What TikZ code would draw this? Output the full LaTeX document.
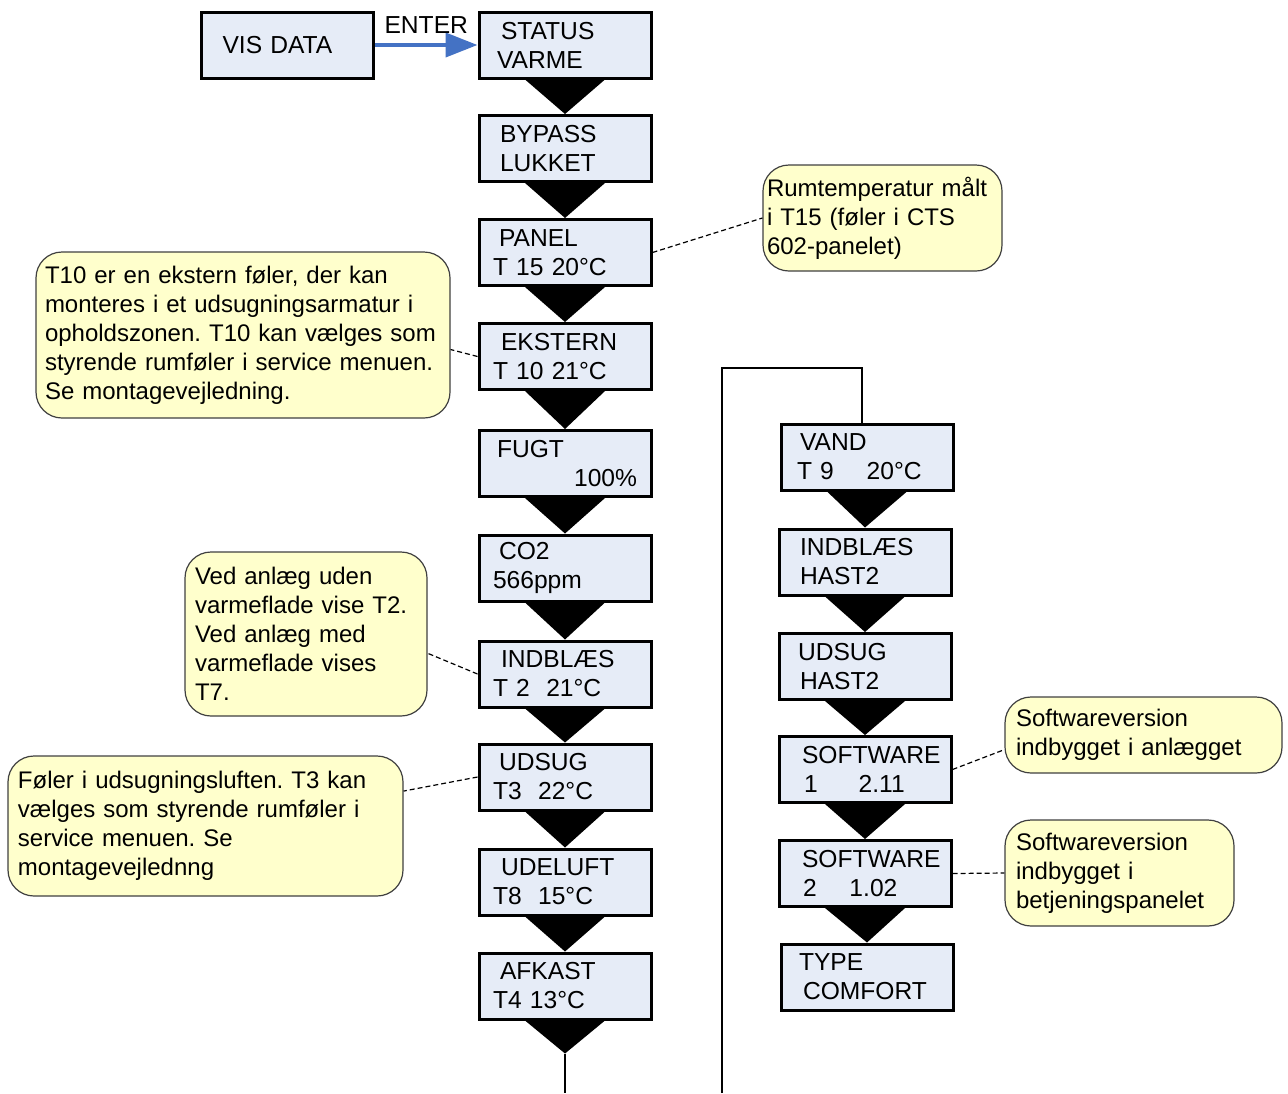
\documentclass[tikz,border=0pt]{standalone}
\usepackage{fontspec}
\setmainfont{Liberation Sans}
\usetikzlibrary{arrows.meta}
\frenchspacing
\definecolor{boxblue}{RGB}{230,236,247}
\definecolor{noteyellow}{RGB}{255,255,204}
\definecolor{enterblue}{RGB}{68,114,196}
\tikzset{
	menubox/.style={draw, line width=1.5pt, fill=boxblue, text width=72pt, inner xsep=7pt, inner ysep=0pt, minimum height=33pt, align=left, font=\fontsize{12.3}{14.5}\selectfont},
	menuboxr/.style={menubox, text width=77pt, inner xsep=4.5pt},
	note/.style={draw=black!75, line width=0.6pt, fill=noteyellow, rounded corners=13pt, inner ysep=0pt, align=left, font=\fontsize{12}{14.5}\selectfont},
	notelink/.style={dash pattern=on 2.5pt off 1.5pt, line width=0.6pt}
}

\begin{document}
\begin{tikzpicture}[x=0.5pt, y=-0.5pt]
			%%%%% START %%%%%
			\useasboundingbox (0, 0) rectangle (1288, 1093);
			
			\node[menubox] (visdata) at (287.5, 45) {\hspace*{3.5pt}VIS DATA};
			
			% venstre kolonne
			\node[menubox] (status) at (565, 45) {\hspace*{4pt}STATUS\\\hspace*{2pt}VARME};
			\node[menubox] (bypass) at (565, 148.5) {\hspace*{3.5pt}BYPASS\\\hspace*{3.5pt}LUKKET};
			\node[menubox] (panel) at (565, 252.5) {\hspace*{3pt}PANEL\\T 15 20°C};
			\node[menubox] (ekstern) at (565, 356.5) {\hspace*{4pt}EKSTERN\\T 10 21°C};
			\node[menubox] (fugt) at (565, 463.5) {\hspace*{2pt}FUGT\\\hspace*{\fill}100\%};
			\node[menubox] (co2) at (565, 568) {\hspace*{3pt}CO2\\566ppm};
			\node[menubox] (indblaes) at (565, 674) {\hspace*{4pt}INDBLÆS\\T 2\ \ 21°C};
			\node[menubox] (udsug) at (565, 777) {\hspace*{3pt}UDSUG\\T3\ \ 22°C};
			\node[menubox] (udeluft) at (565, 882) {\hspace*{4pt}UDELUFT\\T8\ \ 15°C};
			\node[menubox] (afkast) at (565, 986) {\hspace*{3.5pt}AFKAST\\T4 13°C};
			
			% hoejre kolonne
			\node[menuboxr] (vand) at (867, 457) {\hspace*{5pt}VAND\\\hspace*{3.5pt}T 9\ \ \ \ 20°C};
			\node[menuboxr] (indblaesr) at (865, 562) {\hspace*{6pt}INDBLÆS\\\hspace*{6pt}HAST2};
			\node[menuboxr] (udsugr) at (865, 666.5) {\hspace*{5pt}UDSUG\\\hspace*{6pt}HAST2};
			\node[menuboxr] (softwarea) at (865, 769.5) {\hspace*{7pt}SOFTWARE\\\hspace*{8pt}1\ \ \ \ \ 2.11};
			\node[menuboxr] (softwareb) at (865, 873.5) {\hspace*{7pt}SOFTWARE\\\hspace*{7.5pt}2\ \ \ \ 1.02};
			\node[menuboxr] (type) at (867, 977) {\hspace*{4.5pt}TYPE\\\hspace*{6.5pt}COMFORT};
			
			\foreach \a/\b in {status/bypass, bypass/panel, panel/ekstern, ekstern/fugt, fugt/co2, co2/indblaes, indblaes/udsug, udsug/udeluft, udeluft/afkast, vand/indblaesr, indblaesr/udsugr, udsugr/softwarea, softwarea/softwareb, softwareb/type}
				\fill ([xshift=-20pt]\a.south) -- ([xshift=20pt]\a.south) -- (\b.north) -- cycle;
			
			\coordinate (afkasttip) at ([yshift=-16.5pt]afkast.south);
			\fill ([xshift=-20pt]afkast.south) -- ([xshift=20pt]afkast.south) -- (afkasttip) -- cycle;
			\coordinate (leftout) at (565, 1093);
			\draw[line width=0.75pt] (afkasttip) -- (leftout);
			
			\coordinate (rightout) at (722, 1093);
			\coordinate (looptop) at (862, 368);
			\draw[line width=0.75pt] (rightout) |- (looptop) -- (looptop |- vand.north);
			
			\draw[-{Triangle[length=16pt, width=12pt]}, line width=2pt, color=enterblue] (visdata.east) -- node[above=3pt, inner sep=2pt, text=black, font=\fontsize{12.3}{14.5}\selectfont] (enter) {ENTER} (status.west);
			
			% kommentarer
			\node[note, text width=115.5pt, inner xsep=2pt, minimum height=53pt] (rumnote) at (882.5, 218) {Rumtemperatur målt\\i T15 (føler i CTS\\602-panelet)};
			\node[note, text width=198pt, inner xsep=4.5pt, minimum height=83pt] (eksternnote) at (243, 335) {T10 er en ekstern føler, der kan\\monteres i et udsugningsarmatur i\\opholdszonen. T10 kan vælges som\\styrende rumføler i service menuen.\\Se montagevejledning.};
			\node[note, text width=111pt, inner xsep=5pt, minimum height=82pt] (vednote) at (306, 634) {Ved anlæg uden\\varmeflade vise T2.\\Ved anlæg med\\varmeflade vises\\T7.};
			\node[note, text width=187.5pt, inner xsep=5pt, minimum height=70pt] (folernote) at (205.5, 826) {Føler i udsugningsluften. T3 kan\\vælges som styrende rumføler i\\service menuen. Se\\montagevejlednng};
			\node[note, text width=127.5pt, inner xsep=5.5pt, minimum height=38pt] (swanote) at (1143.5, 735) {Softwareversion\\indbygget i anlægget};
			\node[note, text width=103.5pt, inner xsep=5.5pt, minimum height=53pt] (swbnote) at (1119.5, 873) {Softwareversion\\indbygget i\\betjeningspanelet};
			
			\draw[notelink] (panel.east) -- (rumnote.west);
			\draw[notelink] (ekstern.west) -- (eksternnote.-4);
			\draw[notelink] (indblaes.west) -- (vednote.-9);
			\draw[notelink] (udsug.west) -- (folernote.10);
			\draw[notelink] (softwarea.east) -- (swanote.186);
			\draw[notelink] (softwareb.east) -- (swbnote.west);
			
			%%%%% END %%%%%
		\end{tikzpicture}
\end{document}
